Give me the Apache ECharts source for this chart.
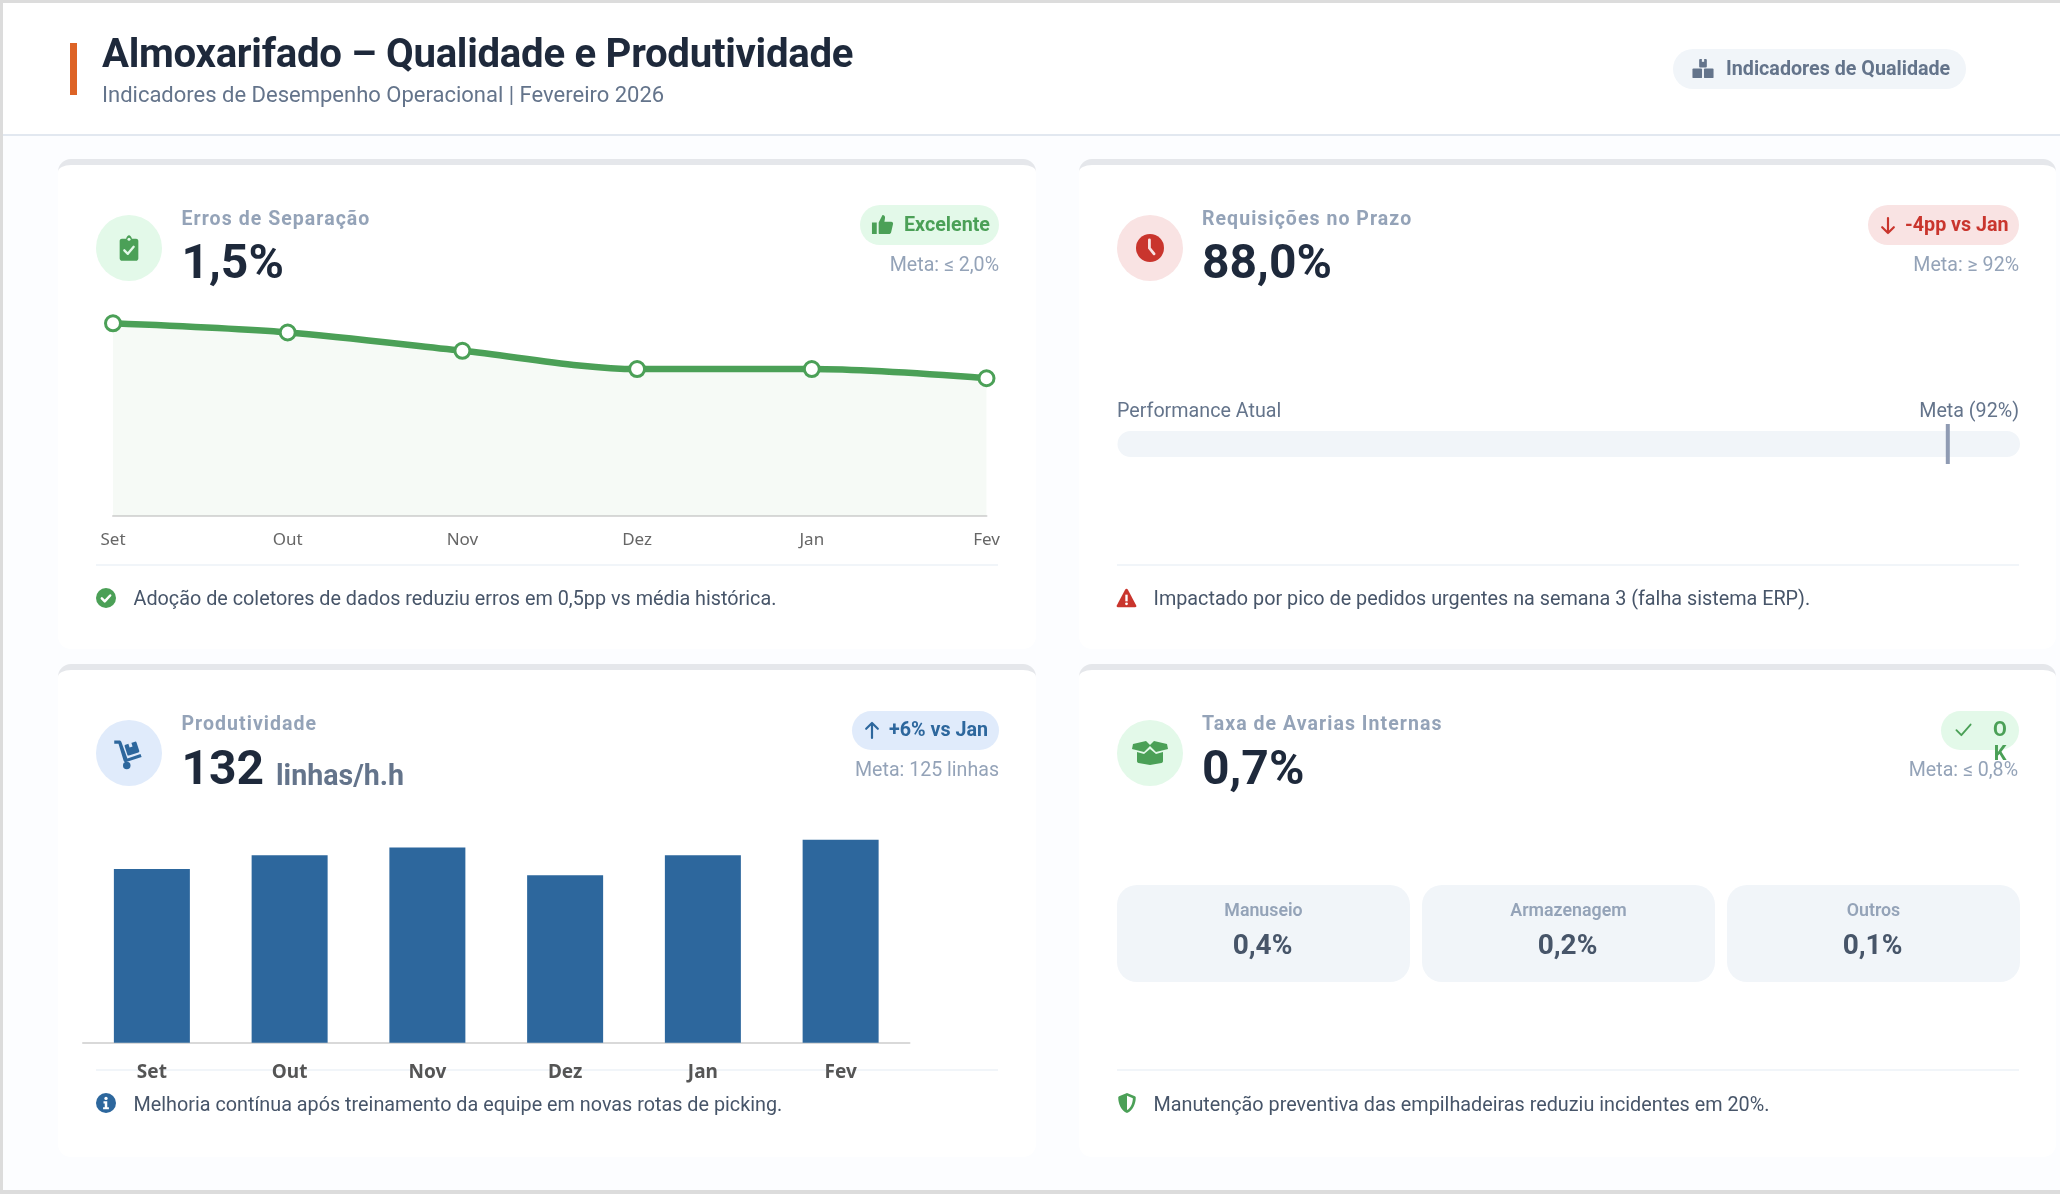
<!DOCTYPE html>
<html lang="pt-BR"><head><meta charset="utf-8"><title>Almoxarifado – Qualidade e Produtividade</title>
<script src="https://cdn.jsdelivr.net/npm/echarts@6/dist/echarts.min.js"></script>
<style>
html,body{margin:0;padding:0;width:2060px;height:1194px;overflow:hidden;background:#fcfdff;font-family:Roboto,sans-serif}
#chart{position:absolute;left:0;top:0;width:2060px;height:1194px;z-index:2}
.b{position:absolute;z-index:1;box-sizing:border-box}
.t{position:absolute;z-index:3;white-space:nowrap;line-height:1;transform:translateY(-50%)}
.r{transform:translate(-100%,-50%)}
.c{transform:translate(-50%,-50%)}
svg.i{position:absolute;z-index:3;overflow:visible}
</style></head><body>
<div id="chart"></div>
<script>
var months = ['Set','Out','Nov','Dez','Jan','Fev'];
var errosValues = [2.1,2.0,1.8,1.6,1.6,1.5];
var produtividadeValues = [113,122,127,109,122,132];
var metaPrazo = [92];
var trackFull = [100];
var avariaLabels = ['Manuseio','Armazenagem','Outros'];
var avariaValues = ['0,4%','0,2%','0,1%'];

var GREEN='#4ba057',RED='#c9352d',BLUE='#2d679d',SLATE='#64748b',MUTED='#94a3b8',DARK='#1e293b',NOTE='#475569';
function box(x,y,w,h,bg,r,extra){var d=document.createElement('div');d.className='b';
 d.style.cssText+='left:'+x+'px;top:'+y+'px;width:'+w+'px;height:'+h+'px;background:'+bg+';border-radius:'+(r||0)+(extra||'');document.body.appendChild(d);return d;}
function text(s,x,cy,size,color,weight,opt){opt=opt||{};var d=document.createElement('div');d.className='t'+(opt.align?' '+opt.align:'');d.textContent=s;
 d.style.left=x+'px';d.style.top=cy+'px';d.style.fontSize=size+'px';d.style.color=color;d.style.fontWeight=weight||400;
 if(opt.ls)d.style.letterSpacing=opt.ls+'px';document.body.appendChild(d);return d;}
function icon(x,y,w,h,body,vb){var s=document.createElementNS('http://www.w3.org/2000/svg','svg');s.setAttribute('class','i');
 s.setAttribute('viewBox',vb||'0 0 24 24');s.setAttribute('style','left:'+x+'px;top:'+y+'px;width:'+w+'px;height:'+h+'px');s.innerHTML=body;document.body.appendChild(s);}

// page frame
box(0,0,2060,3,'#dcdcdc');box(0,0,3,1194,'#dcdcdc');box(0,1190,2060,4,'#dcdcdc');
box(3,3,2057,131,'#ffffff');box(3,134,2057,2,'#e2e8f0');
box(70,43,7,52,'#dd6326');
text('Almoxarifado – Qualidade e Produtividade',102,54,40.2,DARK,700,{ls:-0.3});
text('Indicadores de Desempenho Operacional | Fevereiro 2026',102,95,22,SLATE,400);
box(1673,49,293,40,'#f1f5f9','20px');
text('Indicadores de Qualidade',1726,68.5,19.7,SLATE,700);
icon(1691,57,24,23,'<g fill="#64748b"><rect x="8" y="2" width="8" height="9" rx="1"/><rect x="1" y="12" width="10" height="10" rx="1"/><rect x="13" y="12" width="10" height="10" rx="1"/><rect x="10.8" y="2" width="2.4" height="3" fill="#f1f5f9"/></g>');

// cards
var cards=[[58,159,978,490],[1079,159,977,490],[58,664,978,493],[1079,664,977,493]];
cards.forEach(function(c){box(c[0],c[1],c[2],c[3],'#ffffff','13px',';border-top:6px solid #e5e7eb');});

function header(cx,cy,bg,title,tx,ty,val,vy){box(cx-33,cy-33,66,66,bg,'50%');text(title,tx,ty,19.5,MUTED,700,{ls:1.05});text(val,tx,vy,48,DARK,700);}
function note(s,x,cy,col){text(s,x,cy,19.8,NOTE,400);}

// Card 1
header(129,248,'#e3f9e9','Erros de Separação',181.5,218.5,'1,5%',262);
box(859.5,205,139.5,40,'#e3f9e9','20px');
text('Excelente',904,224.5,19.7,GREEN,700);
icon(871,213,23,23,'<path fill="#4ba057" d="M1 10h5v12H1zM8 21V10l4-8c2 0 3 1.500 2.600 3.500L14 9h7c1.500 0 2.300 1.300 2 2.600L21 20c-.3 1-1 2-2.500 2H10c-1 0-2-.3-2-1z"/>');
text('Meta: ≤ 2,0%',999,265,19.6,MUTED,400,{align:'r'});
icon(115,234,28,28,'<path fill="#4ba057" d="M6 4h3.500C10 2 11 1 12 1s2 1 2.500 3H18c1.500 0 2 1 2 2v15c0 1-.8 2-2 2H6c-1.200 0-2-1-2-2V6c0-1 .5-2 2-2z"/><circle cx="12" cy="4.500" r="1.300" fill="#e3f9e9"/><path fill="none" stroke="#e3f9e9" stroke-width="2" stroke-linecap="round" stroke-linejoin="round" d="M8 14l3 3 5-6"/>');
box(96,564,902,2,'#f1f5f9');
icon(96,588,20,20,'<circle cx="12" cy="12" r="12" fill="#4ba057"/><path fill="none" stroke="#fff" stroke-width="3" stroke-linecap="round" stroke-linejoin="round" d="M7 12.500l3.500 3.500L17 9"/>');
note('Adoção de coletores de dados reduziu erros em 0,5pp vs média histórica.',133.5,599);

// Card 2
header(1150,248,'#f9e3e3','Requisições no Prazo',1202,218.5,'88,0%',262);
box(1867.500,205,151.500,40,'#f9e3e3','20px');
text('-4pp vs Jan',1905,224.5,19.7,RED,700);
icon(1878,214,20,23,'<path fill="none" stroke="#c9352d" stroke-width="2.600" stroke-linecap="round" stroke-linejoin="round" d="M12 3v18M5 14l7 7 7-7"/>');
text('Meta: ≥ 92%',2019,265,19.6,MUTED,400,{align:'r'});
icon(1136,234,28,28,'<circle cx="12" cy="12" r="12" fill="#c9352d"/><path fill="none" stroke="#f9e3e3" stroke-width="2.400" stroke-linecap="round" d="M11.500 5v7l4 5"/>');
text('Performance Atual',1117,410.5,19.7,SLATE,400);
text('Meta (92%)',2019,410.5,19.7,SLATE,400,{align:'r'});
box(1117,564,902,2,'#f1f5f9');
icon(1116,588,21,20,'<path fill="#c9352d" d="M12 1c.8 0 1.300.4 1.700 1.100l10 18.800c.5 1-.2 2.100-1.300 2.100H1.600C.5 23-.2 21.900.3 20.900l10-18.800C10.700 1.400 11.200 1 12 1z"/><rect x="10.600" y="8" width="2.800" height="8" fill="#fff"/><circle cx="12" cy="19" r="1.700" fill="#fff"/>');
note('Impactado por pico de pedidos urgentes na semana 3 (falha sistema ERP).',1153.5,599);

// Card 3
header(129,753,'#e0ebfb','Produtividade',181.5,723.8,'132',767.5);
text('linhas/h.h',276,775,28.6,SLATE,700);
box(852,711,147,39,'#e0ebfb','20px');
text('+6% vs Jan',889,729.5,19.7,BLUE,700);
icon(862,719,20,23,'<path fill="none" stroke="#2d679d" stroke-width="2.600" stroke-linecap="round" stroke-linejoin="round" d="M12 21V3M5 10l7-7 7 7"/>');
text('Meta: 125 linhas',999,770,19.6,MUTED,400,{align:'r'});
icon(113,738,30,30,'<g fill="#2d679d"><path d="M1 2h4c.9 0 1.500.5 1.800 1.300l4.700 13 10.500-3.500.9 2.300-12.300 4.100c-.9.300-1.800-.1-2.100-1L4.400 4.500H1z"/><circle cx="11" cy="22" r="3"/><rect x="10" y="4" width="10" height="9" rx="1" transform="rotate(-18 15 8)"/></g><rect x="13.500" y="3.500" width="2.500" height="3.500" fill="#e0ebfb" transform="rotate(-18 15 8)"/>');
box(96,1069,902,2,'#f1f5f9');
icon(96,1093,20,20,'<circle cx="12" cy="12" r="12" fill="#2d679d"/><circle cx="12" cy="6.500" r="2" fill="#fff"/><path fill="#fff" d="M9 10h4.500v7H15.500v2.500H8.500V17h2v-4.500H9z"/>');
note('Melhoria contínua após treinamento da equipe em novas rotas de picking.',133.5,1104.5);

// Card 4
header(1150,753,'#e3f9e9','Taxa de Avarias Internas',1202,723.8,'0,7%',767.5);
box(1941,711,78,39,'#e3f9e9','20px');
text('Meta: ≤ 0,8%',2018,770,19.6,MUTED,400,{align:'r'});
text('O',2000,729,20,GREEN,700,{align:'c'});
text('K',2000,753,20,GREEN,700,{align:'c'});
icon(1955,721,17,17,'<path fill="none" stroke="#4ba057" stroke-width="2.600" stroke-linecap="round" stroke-linejoin="round" d="M2 13l7 7L22 5"/>');
icon(1132,741,36,24,'<path fill="#4ba057" d="M1 3 14 0l4 4 4-4 13 3 1 5-12 3-6-6-6 6L0 8zM5 11l7 2 6-5 6 5 7-2v9c0 1-.6 1.700-1.500 2L18 24 6.500 22C5.600 21.700 5 21 5 20z"/>','0 0 36 24');
avariaLabels.forEach(function(l,i){var x=[1117,1422,1727][i],w=293;box(x,885,w,97,'#f1f5f9','20px');
 text(l,x+w/2,909.5,17.8,MUTED,600,{align:'c'});text(avariaValues[i],x+w/2-1,945,28,NOTE,700,{align:'c'});});
box(1117,1069,902,2,'#f1f5f9');
icon(1117,1093,20,20,'<path fill="#4ba057" d="M12 0l9.500 3.800c.6.200 1 .8 1 1.500C22.500 13 19 21 12 24 5 21 1.500 13 1.500 5.300c0-.7.400-1.300 1-1.500z"/><path fill="#ffffff" d="M12 3.400l7 2.800C19 12 16.500 17.800 12 20.500z"/>');
note('Manutenção preventiva das empilhadeiras reduziu incidentes em 20%.',1153.5,1104.5);

var chart=echarts.init(document.getElementById('chart'),null,{renderer:'canvas'});
chart.setOption({
 animation:false,backgroundColor:'transparent',
 grid:[
  {left:113,top:286.75,width:873.5,height:228.75},
  {left:83,top:827.5,width:826.5,height:215.3},
  {left:1117.5,top:431,width:902.5,height:26}
 ],
 xAxis:[
  {gridIndex:0,type:'category',data:months,boundaryGap:false,axisTick:{show:false},
   axisLine:{lineStyle:{color:'#d9d9d9',width:2}},
   axisLabel:{interval:0,hideOverlap:false,margin:16,fontFamily:'Noto Sans',fontSize:17,color:'#666'}},
  {gridIndex:1,type:'category',data:months,axisTick:{show:false},
   axisLine:{lineStyle:{color:'#d9d9d9',width:2}},
   axisLabel:{interval:0,margin:20,fontFamily:'Noto Sans',fontWeight:700,fontSize:19,color:'#555'}},
  {gridIndex:2,type:'value',min:0,max:100,show:false}
 ],
 yAxis:[
  {gridIndex:0,type:'value',min:0,max:2.5,show:false},
  {gridIndex:1,type:'value',min:0,max:140,show:false},
  {gridIndex:2,type:'category',data:['Prazo'],show:false}
 ],
 series:[
  {type:'line',xAxisIndex:0,yAxisIndex:0,data:errosValues,smooth:0.3,clip:false,
   lineStyle:{color:GREEN,width:6.5},areaStyle:{color:'rgba(75,160,87,0.07)'},
   symbol:'circle',symbolSize:15,itemStyle:{color:'#fff',borderColor:GREEN,borderWidth:3},z:3},
  {type:'bar',xAxisIndex:1,yAxisIndex:1,data:produtividadeValues,barWidth:76,itemStyle:{color:BLUE}},
  {type:'bar',xAxisIndex:2,yAxisIndex:2,data:trackFull,barWidth:26,itemStyle:{color:'#f1f5f9',borderRadius:13},silent:true},
  {type:'scatter',xAxisIndex:2,yAxisIndex:2,data:metaPrazo.map(function(v){return [v,0];}),clip:false,
   symbol:'rect',symbolSize:[4,40],itemStyle:{color:'#8f9bb3',opacity:1},z:4}
 ]
});
</script>
</body></html>
